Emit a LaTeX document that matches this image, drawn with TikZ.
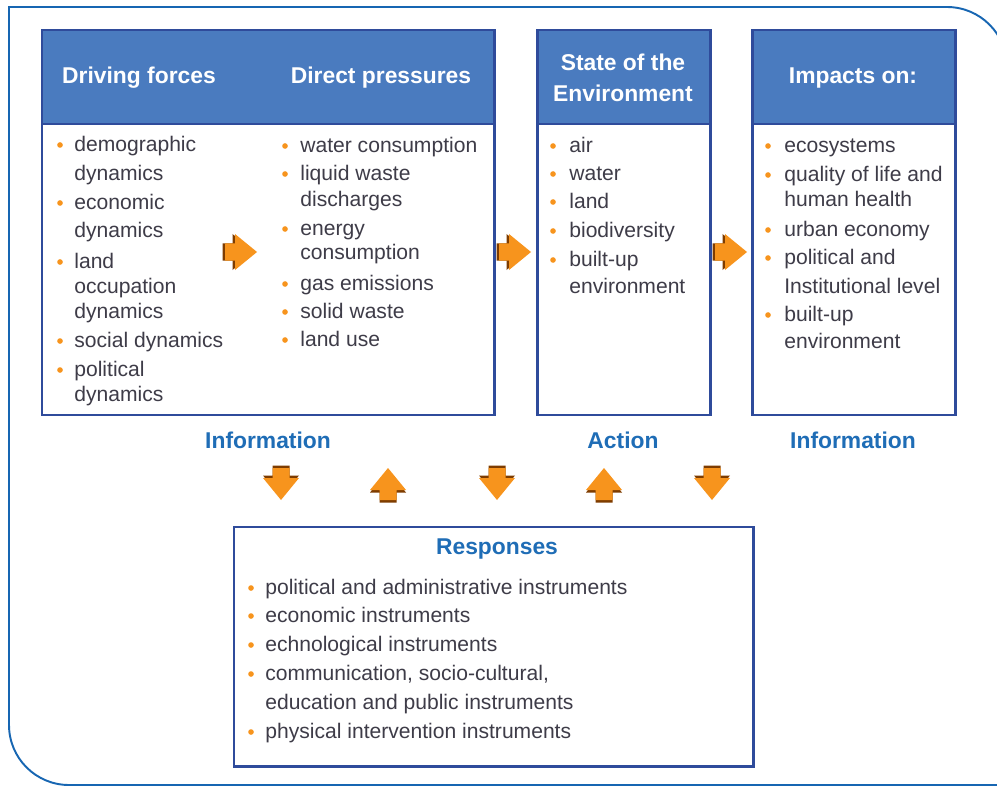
\documentclass[tikz,border=0pt]{standalone}
\usepackage{fontspec}
\setmainfont{Liberation Sans}
\usetikzlibrary{positioning}
\definecolor{DPHead}{HTML}{4A7BBF}
\definecolor{DPEdge}{HTML}{2F4B9B}
\definecolor{DPFrame}{HTML}{1766B2}
\definecolor{DPLabel}{HTML}{1F6DB6}
\definecolor{DPText}{HTML}{3E3C48}
\definecolor{DPOrange}{HTML}{F7941D}
\definecolor{DPShade}{HTML}{7E3C00}
\tikzset{
  frame/.style={draw=DPFrame,line width=1.1pt},
  box/.style={draw=DPEdge,line width=1.7pt,fill=white},
  boxhead/.style={draw=DPEdge,line width=1.7pt,fill=DPHead},
  headtext/.style={text=white,font=\fontsize{13}{17.6}\selectfont\bfseries,align=center},
  steplabel/.style={text=DPLabel,font=\fontsize{13}{16}\selectfont\bfseries},
  item/.style={text=DPText,font=\fontsize{12}{14}\selectfont,anchor=base west,
               inner sep=0pt,yshift=-1.35mm},
  dot/.style={circle,fill=DPOrange,inner sep=0pt,minimum size=3.2pt},
  blockarrow/.pic={
    % dark copy behind gives the raised look
    \fill[DPShade,xshift=-0.05cm] (-16,-8.5) -- (-6,-8.5) -- (-6,-18) -- (16,0)
      -- (-6,18) -- (-6,8.5) -- (-16,8.5) -- cycle;
    \fill[DPOrange] (-16,-8.5) -- (-6,-8.5) -- (-6,-18) -- (16,0)
      -- (-6,18) -- (-6,8.5) -- (-16,8.5) -- cycle;
  },
}

\begin{document}
\begin{tikzpicture}[x=0.02cm,y=-0.02cm]
  \useasboundingbox (0,0) rectangle (997,787);
  \clip (0,0) rectangle (997,787);

  % outer frame
  \draw[frame] (1010,785) -- (69,785) arc[start angle=270,end angle=180,radius=1.2cm]
    -- (9,7) -- (947,7) arc[start angle=90,end angle=0,radius=1.2cm] -- (1007,800);

  % boxes
  \draw[box] (42,30) rectangle (494,415);
  \draw[boxhead] (42,30) rectangle (494,124);
  \draw[box] (537,30) rectangle (710,415);
  \draw[boxhead] (537,30) rectangle (710,124);
  \draw[box] (752,30) rectangle (955,415);
  \draw[boxhead] (752,30) rectangle (955,124);
  \draw[box] (234,527) rectangle (753,766);

  \node[headtext] (driving) at (139,78) {Driving forces};
  \node[headtext] (pressures) at (381,78) {Direct pressures};
  \node[headtext] (state) at (623,77.5) {State of the\\Environment};
  \node[headtext] (impacts) at (853,78) {Impacts on:};
  \node[steplabel] (responses) at (497,549) {Responses};

  % driving forces
  \foreach \y/\t [count=\i] in {145/demographic,174/dynamics,203/economic,231/dynamics,
      262/land,287/occupation,312/dynamics,341/social dynamics,370/political,395/dynamics}
    \node[item] (drv\i) at (74,\y) {\t};
  \foreach \y [count=\i] in {145,203,262,341,370}
    \node[dot] (drvdot\i) at (60,\y) {};

  % direct pressures
  \foreach \y/\t [count=\i] in {146/water consumption,174/liquid waste,200/discharges,
      229/energy,253/consumption,284/gas emissions,312/solid waste,340/land use}
    \node[item] (prs\i) at (300,\y) {\t};
  \foreach \y [count=\i] in {146,174,229,284,312,340}
    \node[dot] (prsdot\i) at (285,\y) {};

  % state
  \foreach \y/\t [count=\i] in {146/air,174/water,202/land,231/biodiversity,
      260/built-up,287/environment}
    \node[item] (stt\i) at (569,\y) {\t};
  \foreach \y [count=\i] in {146,174,202,231,260}
    \node[dot] (sttdot\i) at (553,\y) {};

  % impacts
  \foreach \y/\t [count=\i] in {146/ecosystems,175/quality of life and,200/human health,
      230/urban economy,258/political and,287/Institutional level,315/built-up,342/environment}
    \node[item] (imp\i) at (784,\y) {\t};
  \foreach \y [count=\i] in {146,175,230,258,315}
    \node[dot] (impdot\i) at (768,\y) {};

  % responses
  \foreach \y/\t [count=\i] in {588/political and administrative instruments,
      616/economic instruments,645/echnological instruments,
      674/{communication, socio-cultural,},703/education and public instruments,
      732/physical intervention instruments}
    \node[item] (rsp\i) at (265,\y) {\t};
  \foreach \y [count=\i] in {588,616,645,674,732}
    \node[dot] (rspdot\i) at (251,\y) {};

  \node[steplabel] (info1) at (268,440) {Information};
  \node[steplabel] (action) at (623,440) {Action};
  \node[steplabel] (info2) at (853,440) {Information};

  % block arrows
  \pic at (241,252) {blockarrow};
  \pic at (515,252) {blockarrow};
  \pic at (731,252) {blockarrow};
  \pic[rotate=-90] at (281,484) {blockarrow};
  \pic[rotate=90] at (388,484) {blockarrow};
  \pic[rotate=-90] at (497,484) {blockarrow};
  \pic[rotate=90] at (604,484) {blockarrow};
  \pic[rotate=-90] at (712,484) {blockarrow};
\end{tikzpicture}
\end{document}
